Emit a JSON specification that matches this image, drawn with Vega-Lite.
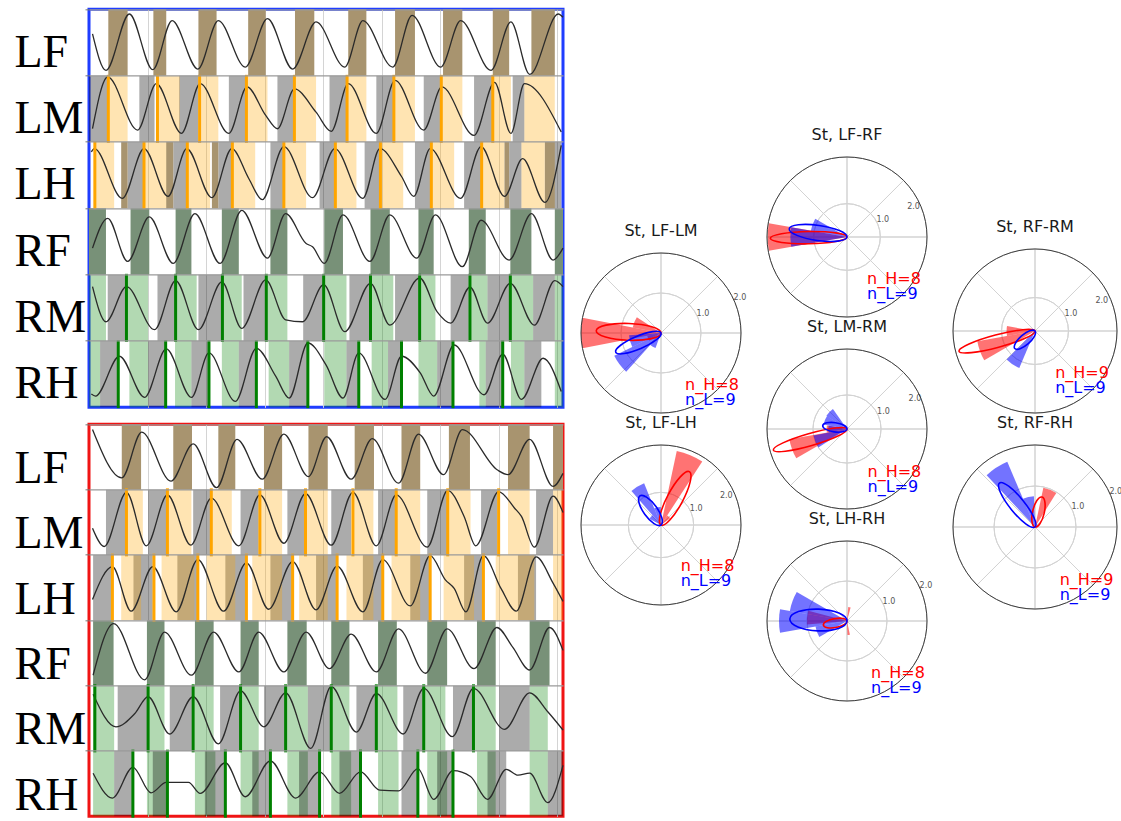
{
"$schema":"https://vega.github.io/schema/vega-lite/v6.json",
"background":"white",
"padding":{"left":12,"top":7,"right":0,"bottom":0},
"config":{"view":{"stroke":null},"font":"DejaVu Sans",
"title":{"font":"DejaVu Sans","fontSize":16,"fontWeight":"normal","color":"#1a1a1a","offset":12},
"style":{"rlab":{"fontSize":8,"color":"#555555","align":"center","baseline":"middle","dx":5,"dy":-4},"nlab":{"fontSize":16,"align":"left","baseline":"alphabetic","font":"DejaVu Sans"}}},
"datasets":{
"rings":[{"r":1},{"r":2}],
"rim":[{"r":99}],
"spokes":[{"t":0,"u":0,"r":99},{"t":45,"u":45,"r":99},{"t":90,"u":90,"r":99},{"t":135,"u":135,"r":99},{"t":180,"u":180,"r":99},{"t":225,"u":225,"r":99},{"t":270,"u":270,"r":99},{"t":315,"u":315,"r":99}],
"counts":[{"p":"LF-LM","g":"H","lab":"n_H=8"},{"p":"LF-LM","g":"L","lab":"n_L=9"},{"p":"LF-LH","g":"H","lab":"n_H=8"},{"p":"LF-LH","g":"L","lab":"n_L=9"},{"p":"LF-RF","g":"H","lab":"n_H=8"},{"p":"LF-RF","g":"L","lab":"n_L=9"},{"p":"LM-RM","g":"H","lab":"n_H=8"},{"p":"LM-RM","g":"L","lab":"n_L=9"},{"p":"LH-RH","g":"H","lab":"n_H=8"},{"p":"LH-RH","g":"L","lab":"n_L=9"},{"p":"RF-RM","g":"H","lab":"n_H=9"},{"p":"RF-RM","g":"L","lab":"n_L=9"},{"p":"RF-RH","g":"H","lab":"n_H=9"},{"p":"RF-RH","g":"L","lab":"n_L=9"}],
"rose":[
{"p":"LF-LM","g":"H","a":169,"a2":191,"r":2.0},{"p":"LF-LM","g":"H","a":147,"a2":169,"r":0.72},{"p":"LF-LM","g":"H","a":191,"a2":213,"r":0.35},
{"p":"LF-LM","g":"L","a":206,"a2":228,"r":1.3},{"p":"LF-LM","g":"L","a":184,"a2":206,"r":0.8},{"p":"LF-LM","g":"L","a":228,"a2":250,"r":0.4},
{"p":"LF-LH","g":"H","a":57,"a2":78,"r":2.32},{"p":"LF-LH","g":"H","a":36,"a2":57,"r":0.35},
{"p":"LF-LH","g":"L","a":112,"a2":131,"r":1.38},{"p":"LF-LH","g":"L","a":91,"a2":112,"r":0.55},{"p":"LF-LH","g":"L","a":131,"a2":152,"r":0.4},
{"p":"LF-RF","g":"H","a":170,"a2":190,"r":2.38},{"p":"LF-RF","g":"L","a":170,"a2":190,"r":1.7},{"p":"LF-RF","g":"L","a":150,"a2":170,"r":1.1},
{"p":"LM-RM","g":"H","a":190,"a2":210,"r":1.72},{"p":"LM-RM","g":"H","a":170,"a2":190,"r":0.6},
{"p":"LM-RM","g":"L","a":125,"a2":147,"r":0.72},{"p":"LM-RM","g":"L","a":147,"a2":169,"r":0.7},{"p":"LM-RM","g":"L","a":169,"a2":191,"r":0.55},{"p":"LM-RM","g":"L","a":191,"a2":213,"r":1.0},
{"p":"LH-RH","g":"H","a":165,"a2":185,"r":1.0},{"p":"LH-RH","g":"H","a":75,"a2":85,"r":0.35},{"p":"LH-RH","g":"H","a":272,"a2":282,"r":0.35},
{"p":"LH-RH","g":"L","a":170,"a2":190,"r":1.7},{"p":"LH-RH","g":"L","a":150,"a2":170,"r":1.45},{"p":"LH-RH","g":"L","a":190,"a2":210,"r":0.8},
{"p":"RF-RM","g":"H","a":190,"a2":210,"r":1.75},{"p":"RF-RM","g":"H","a":170,"a2":190,"r":0.85},{"p":"RF-RM","g":"L","a":225,"a2":247,"r":1.2},
{"p":"RF-RH","g":"H","a":58,"a2":78,"r":0.98},{"p":"RF-RH","g":"L","a":113,"a2":133,"r":1.73},{"p":"RF-RH","g":"L","a":92,"a2":113,"r":0.75}],
"vec":[
{"p":"LF-LM","g":"H","ang":178,"len":1.62,"s":"m"},{"p":"LF-LM","g":"L","ang":203,"len":1.23,"s":"m"},
{"p":"LF-LH","g":"H","ang":62,"len":1.85,"s":"m"},{"p":"LF-LH","g":"L","ang":126,"len":1.1,"s":"w"},
{"p":"LF-RF","g":"H","ang":181,"len":2.3,"s":"n"},{"p":"LF-RF","g":"L","ang":172,"len":1.75,"s":"m"},
{"p":"LM-RM","g":"H","ang":196,"len":2.25,"s":"n"},{"p":"LM-RM","g":"L","ang":172,"len":0.72,"s":"w"},
{"p":"LH-RH","g":"H","ang":190,"len":0.6,"s":"w"},{"p":"LH-RH","g":"L","ang":178,"len":1.43,"s":"w"},
{"p":"RF-RM","g":"H","ang":195,"len":2.35,"s":"n"},{"p":"RF-RM","g":"L","ang":221,"len":0.8,"s":"w"},
{"p":"RF-RH","g":"H","ang":77,"len":0.75,"s":"w"},{"p":"RF-RH","g":"L","ang":129,"len":1.38,"s":"m"}],
"events":[
{"p":"L","l":"LM","k":"eL","t":0.33},{"p":"L","l":"LM","k":"eL","t":1.17},{"p":"L","l":"LM","k":"eL","t":1.89},{"p":"L","l":"LM","k":"eL","t":2.69},{"p":"L","l":"LM","k":"eL","t":3.51},{"p":"L","l":"LM","k":"eL","t":4.41},{"p":"L","l":"LM","k":"eL","t":5.21},{"p":"L","l":"LM","k":"eL","t":6.02},{"p":"L","l":"LM","k":"eL","t":6.9},
{"p":"L","l":"LH","k":"eL","t":0.1},{"p":"L","l":"LH","k":"eL","t":0.94},{"p":"L","l":"LH","k":"eL","t":1.68},{"p":"L","l":"LH","k":"eL","t":2.45},{"p":"L","l":"LH","k":"eL","t":3.33},{"p":"L","l":"LH","k":"eL","t":4.21},{"p":"L","l":"LH","k":"eL","t":4.98},{"p":"L","l":"LH","k":"eL","t":5.85},{"p":"L","l":"LH","k":"eL","t":6.71},
{"p":"L","l":"RM","k":"eR","t":0.64},{"p":"L","l":"RM","k":"eR","t":1.48},{"p":"L","l":"RM","k":"eR","t":2.28},{"p":"L","l":"RM","k":"eR","t":3.03},{"p":"L","l":"RM","k":"eR","t":4.01},{"p":"L","l":"RM","k":"eR","t":4.81},{"p":"L","l":"RM","k":"eR","t":5.65},{"p":"L","l":"RM","k":"eR","t":6.51},{"p":"L","l":"RM","k":"eR","t":7.2},
{"p":"L","l":"RH","k":"eR","t":0.5},{"p":"L","l":"RH","k":"eR","t":1.31},{"p":"L","l":"RH","k":"eR","t":2.05},{"p":"L","l":"RH","k":"eR","t":2.86},{"p":"L","l":"RH","k":"eR","t":3.74},{"p":"L","l":"RH","k":"eR","t":4.61},{"p":"L","l":"RH","k":"eR","t":5.34},{"p":"L","l":"RH","k":"eR","t":6.22},{"p":"L","l":"RH","k":"eR","t":7.07},
{"p":"H","l":"LM","k":"eL","t":0.64},{"p":"H","l":"LM","k":"eL","t":1.34},{"p":"H","l":"LM","k":"eL","t":2.09},{"p":"H","l":"LM","k":"eL","t":2.92},{"p":"H","l":"LM","k":"eL","t":3.7},{"p":"H","l":"LM","k":"eL","t":4.51},{"p":"H","l":"LM","k":"eL","t":5.25},{"p":"H","l":"LM","k":"eL","t":6.13},{"p":"H","l":"LM","k":"eL","t":7.0},
{"p":"H","l":"LH","k":"eL","t":0.4},{"p":"H","l":"LH","k":"eL","t":1.11},{"p":"H","l":"LH","k":"eL","t":1.86},{"p":"H","l":"LH","k":"eL","t":2.69},{"p":"H","l":"LH","k":"eL","t":3.48},{"p":"H","l":"LH","k":"eL","t":4.24},{"p":"H","l":"LH","k":"eL","t":5.02},{"p":"H","l":"LH","k":"eL","t":5.83},{"p":"H","l":"LH","k":"eL","t":6.74},
{"p":"H","l":"RM","k":"eR","t":0.1},{"p":"H","l":"RM","k":"eR","t":1.01},{"p":"H","l":"RM","k":"eR","t":1.78},{"p":"H","l":"RM","k":"eR","t":2.59},{"p":"H","l":"RM","k":"eR","t":3.36},{"p":"H","l":"RM","k":"eR","t":4.14},{"p":"H","l":"RM","k":"eR","t":4.91},{"p":"H","l":"RM","k":"eR","t":5.72},{"p":"H","l":"RM","k":"eR","t":6.57},
{"p":"H","l":"RH","k":"eR","t":0.75},{"p":"H","l":"RH","k":"eR","t":1.34},{"p":"H","l":"RH","k":"eR","t":2.33},{"p":"H","l":"RH","k":"eR","t":3.1},{"p":"H","l":"RH","k":"eR","t":3.94},{"p":"H","l":"RH","k":"eR","t":4.64},{"p":"H","l":"RH","k":"eR","t":5.62},{"p":"H","l":"RH","k":"eR","t":6.22}],
"phase":[
{"p":"L","l":"LF","k":"stL","t0":0.33,"t1":0.66},{"p":"L","l":"LF","k":"stL","t0":1.1,"t1":1.32},{"p":"L","l":"LF","k":"stL","t0":1.87,"t1":2.18},{"p":"L","l":"LF","k":"stL","t0":2.72,"t1":3.02},{"p":"L","l":"LF","k":"stL","t0":3.52,"t1":3.85},{"p":"L","l":"LF","k":"stL","t0":4.43,"t1":4.74},{"p":"L","l":"LF","k":"stL","t0":5.23,"t1":5.57},{"p":"L","l":"LF","k":"stL","t0":6.05,"t1":6.38},{"p":"L","l":"LF","k":"stL","t0":6.9,"t1":7.18},{"p":"L","l":"LF","k":"stL","t0":7.56,"t1":7.96},
{"p":"L","l":"LM","k":"st","t0":0,"t1":0.32},{"p":"L","l":"LM","k":"st","t0":0.86,"t1":1.12},{"p":"L","l":"LM","k":"st","t0":1.54,"t1":1.87},{"p":"L","l":"LM","k":"st","t0":2.39,"t1":2.7},{"p":"L","l":"LM","k":"st","t0":3.22,"t1":3.51},{"p":"L","l":"LM","k":"st","t0":4.11,"t1":4.4},{"p":"L","l":"LM","k":"st","t0":4.91,"t1":5.2},{"p":"L","l":"LM","k":"st","t0":5.72,"t1":6.03},{"p":"L","l":"LM","k":"st","t0":6.58,"t1":6.9},{"p":"L","l":"LM","k":"st","t0":7.24,"t1":7.44},
{"p":"L","l":"LM","k":"wL","t0":0.33,"t1":0.66},{"p":"L","l":"LM","k":"wL","t0":1.18,"t1":1.55},{"p":"L","l":"LM","k":"wL","t0":1.9,"t1":2.21},{"p":"L","l":"LM","k":"wL","t0":2.7,"t1":3.05},{"p":"L","l":"LM","k":"wL","t0":3.51,"t1":3.88},{"p":"L","l":"LM","k":"wL","t0":4.41,"t1":4.74},{"p":"L","l":"LM","k":"wL","t0":5.21,"t1":5.57},{"p":"L","l":"LM","k":"wL","t0":6.02,"t1":6.38},{"p":"L","l":"LM","k":"wL","t0":6.9,"t1":7.21},{"p":"L","l":"LM","k":"wL","t0":7.44,"t1":7.96},
{"p":"L","l":"LH","k":"st","t0":0.66,"t1":0.94},{"p":"L","l":"LH","k":"st","t0":1.44,"t1":1.68},{"p":"L","l":"LH","k":"st","t0":2.21,"t1":2.45},{"p":"L","l":"LH","k":"st","t0":3.1,"t1":3.33},{"p":"L","l":"LH","k":"st","t0":3.94,"t1":4.21},{"p":"L","l":"LH","k":"st","t0":4.71,"t1":4.98},{"p":"L","l":"LH","k":"st","t0":5.57,"t1":5.85},{"p":"L","l":"LH","k":"st","t0":6.41,"t1":6.71},{"p":"L","l":"LH","k":"st","t0":7.18,"t1":7.39},{"p":"L","l":"LH","k":"st","t0":7.84,"t1":8.07},
{"p":"L","l":"LH","k":"wL","t0":0.1,"t1":0.43},{"p":"L","l":"LH","k":"wL","t0":0.94,"t1":1.35},{"p":"L","l":"LH","k":"wL","t0":1.68,"t1":2.07},{"p":"L","l":"LH","k":"wL","t0":2.45,"t1":2.84},{"p":"L","l":"LH","k":"wL","t0":3.33,"t1":3.71},{"p":"L","l":"LH","k":"wL","t0":4.21,"t1":4.57},{"p":"L","l":"LH","k":"wL","t0":4.98,"t1":5.37},{"p":"L","l":"LH","k":"wL","t0":5.85,"t1":6.24},{"p":"L","l":"LH","k":"wL","t0":6.71,"t1":7.1},{"p":"L","l":"LH","k":"wL","t0":7.39,"t1":7.79},
{"p":"L","l":"LH","k":"stL","t0":0.55,"t1":0.66},{"p":"L","l":"LH","k":"stL","t0":1.32,"t1":1.44},{"p":"L","l":"LH","k":"stL","t0":2.1,"t1":2.21},{"p":"L","l":"LH","k":"stL","t0":7.1,"t1":7.18},{"p":"L","l":"LH","k":"stL","t0":7.79,"t1":7.96},
{"p":"L","l":"RF","k":"stR","t0":0,"t1":0.29},{"p":"L","l":"RF","k":"stR","t0":0.71,"t1":1.03},{"p":"L","l":"RF","k":"stR","t0":1.48,"t1":1.75},{"p":"L","l":"RF","k":"stR","t0":2.27,"t1":2.56},{"p":"L","l":"RF","k":"stR","t0":3.1,"t1":3.39},{"p":"L","l":"RF","k":"stR","t0":4.02,"t1":4.34},{"p":"L","l":"RF","k":"stR","t0":4.81,"t1":5.14},{"p":"L","l":"RF","k":"stR","t0":5.63,"t1":5.89},{"p":"L","l":"RF","k":"stR","t0":6.49,"t1":6.78},{"p":"L","l":"RF","k":"stR","t0":7.2,"t1":7.56},{"p":"L","l":"RF","k":"stR","t0":7.96,"t1":8.1},
{"p":"L","l":"RM","k":"wR","t0":0,"t1":0.29},{"p":"L","l":"RM","k":"wR","t0":0.66,"t1":1.01},{"p":"L","l":"RM","k":"wR","t0":1.49,"t1":1.84},{"p":"L","l":"RM","k":"wR","t0":2.28,"t1":2.61},{"p":"L","l":"RM","k":"wR","t0":3.05,"t1":3.39},{"p":"L","l":"RM","k":"wR","t0":4.02,"t1":4.4},{"p":"L","l":"RM","k":"wR","t0":4.83,"t1":5.2},{"p":"L","l":"RM","k":"wR","t0":5.66,"t1":5.92},{"p":"L","l":"RM","k":"wR","t0":6.52,"t1":6.81},{"p":"L","l":"RM","k":"wR","t0":7.21,"t1":7.59},{"p":"L","l":"RM","k":"wR","t0":7.96,"t1":8.1},
{"p":"L","l":"RM","k":"st","t0":0.32,"t1":0.63},{"p":"L","l":"RM","k":"st","t0":1.17,"t1":1.47},{"p":"L","l":"RM","k":"st","t0":1.87,"t1":2.27},{"p":"L","l":"RM","k":"st","t0":2.64,"t1":3.02},{"p":"L","l":"RM","k":"st","t0":3.66,"t1":4.01},{"p":"L","l":"RM","k":"st","t0":4.45,"t1":4.8},{"p":"L","l":"RM","k":"st","t0":5.23,"t1":5.63},{"p":"L","l":"RM","k":"st","t0":6.18,"t1":6.49},{"p":"L","l":"RM","k":"st","t0":6.81,"t1":7.18},{"p":"L","l":"RM","k":"st","t0":7.59,"t1":7.96},
{"p":"L","l":"RH","k":"wR","t0":0,"t1":0.19},{"p":"L","l":"RH","k":"wR","t0":0.69,"t1":1.01},{"p":"L","l":"RH","k":"wR","t0":1.47,"t1":1.75},{"p":"L","l":"RH","k":"wR","t0":2.27,"t1":2.56},{"p":"L","l":"RH","k":"wR","t0":3.07,"t1":3.42},{"p":"L","l":"RH","k":"wR","t0":4.02,"t1":4.4},{"p":"L","l":"RH","k":"wR","t0":4.83,"t1":5.11},{"p":"L","l":"RH","k":"wR","t0":5.63,"t1":5.95},{"p":"L","l":"RH","k":"wR","t0":6.67,"t1":6.78},{"p":"L","l":"RH","k":"wR","t0":7.21,"t1":7.44},{"p":"L","l":"RH","k":"wR","t0":7.96,"t1":8.1},
{"p":"L","l":"RH","k":"st","t0":0.19,"t1":0.49},{"p":"L","l":"RH","k":"st","t0":1.01,"t1":1.31},{"p":"L","l":"RH","k":"st","t0":1.75,"t1":2.05},{"p":"L","l":"RH","k":"st","t0":2.56,"t1":2.86},{"p":"L","l":"RH","k":"st","t0":3.42,"t1":3.74},{"p":"L","l":"RH","k":"st","t0":4.4,"t1":4.61},{"p":"L","l":"RH","k":"st","t0":5.11,"t1":5.34},{"p":"L","l":"RH","k":"st","t0":5.95,"t1":6.22},{"p":"L","l":"RH","k":"st","t0":6.78,"t1":7.07},{"p":"L","l":"RH","k":"st","t0":7.44,"t1":7.73},
{"p":"H","l":"LF","k":"stL","t0":0.56,"t1":0.89},{"p":"H","l":"LF","k":"stL","t0":1.44,"t1":1.76},{"p":"H","l":"LF","k":"stL","t0":2.21,"t1":2.5},{"p":"H","l":"LF","k":"stL","t0":2.99,"t1":3.3},{"p":"H","l":"LF","k":"stL","t0":3.75,"t1":4.08},{"p":"H","l":"LF","k":"stL","t0":4.54,"t1":4.87},{"p":"H","l":"LF","k":"stL","t0":5.34,"t1":5.66},{"p":"H","l":"LF","k":"stL","t0":6.15,"t1":6.51},{"p":"H","l":"LF","k":"stL","t0":7.16,"t1":7.53},{"p":"H","l":"LF","k":"stL","t0":7.93,"t1":8.1},
{"p":"H","l":"LM","k":"st","t0":0.29,"t1":0.63},{"p":"H","l":"LM","k":"st","t0":1.01,"t1":1.32},{"p":"H","l":"LM","k":"st","t0":1.78,"t1":2.07},{"p":"H","l":"LM","k":"st","t0":2.59,"t1":2.9},{"p":"H","l":"LM","k":"st","t0":3.39,"t1":3.68},{"p":"H","l":"LM","k":"st","t0":4.14,"t1":4.48},{"p":"H","l":"LM","k":"st","t0":4.94,"t1":5.23},{"p":"H","l":"LM","k":"st","t0":5.78,"t1":6.12},{"p":"H","l":"LM","k":"st","t0":6.7,"t1":6.98},{"p":"H","l":"LM","k":"st","t0":7.64,"t1":7.93},
{"p":"H","l":"LM","k":"wL","t0":0.64,"t1":0.92},{"p":"H","l":"LM","k":"wL","t0":1.34,"t1":1.75},{"p":"H","l":"LM","k":"wL","t0":2.1,"t1":2.44},{"p":"H","l":"LM","k":"wL","t0":2.92,"t1":3.3},{"p":"H","l":"LM","k":"wL","t0":3.71,"t1":4.08},{"p":"H","l":"LM","k":"wL","t0":4.51,"t1":4.86},{"p":"H","l":"LM","k":"wL","t0":5.26,"t1":5.66},{"p":"H","l":"LM","k":"wL","t0":6.15,"t1":6.52},{"p":"H","l":"LM","k":"wL","t0":7.16,"t1":7.53},{"p":"H","l":"LM","k":"wL","t0":7.93,"t1":8.1},
{"p":"H","l":"LH","k":"st","t0":0.07,"t1":0.4},{"p":"H","l":"LH","k":"st","t0":0.76,"t1":1.09},{"p":"H","l":"LH","k":"st","t0":1.51,"t1":1.86},{"p":"H","l":"LH","k":"st","t0":2.33,"t1":2.69},{"p":"H","l":"LH","k":"st","t0":3.1,"t1":3.48},{"p":"H","l":"LH","k":"st","t0":3.88,"t1":4.24},{"p":"H","l":"LH","k":"st","t0":4.68,"t1":5.02},{"p":"H","l":"LH","k":"st","t0":5.49,"t1":5.83},{"p":"H","l":"LH","k":"st","t0":6.41,"t1":6.74},{"p":"H","l":"LH","k":"st","t0":7.33,"t1":7.64},
{"p":"H","l":"LH","k":"wL","t0":0.55,"t1":0.89},{"p":"H","l":"LH","k":"wL","t0":1.24,"t1":1.8},{"p":"H","l":"LH","k":"wL","t0":2.01,"t1":2.5},{"p":"H","l":"LH","k":"wL","t0":2.79,"t1":3.3},{"p":"H","l":"LH","k":"wL","t0":3.59,"t1":4.08},{"p":"H","l":"LH","k":"wL","t0":4.4,"t1":4.86},{"p":"H","l":"LH","k":"wL","t0":5.17,"t1":5.66},{"p":"H","l":"LH","k":"wL","t0":6.06,"t1":6.58},{"p":"H","l":"LH","k":"wL","t0":6.95,"t1":7.61},{"p":"H","l":"LH","k":"wL","t0":7.93,"t1":8.1},
{"p":"H","l":"RF","k":"stR","t0":0.07,"t1":0.42},{"p":"H","l":"RF","k":"stR","t0":0.99,"t1":1.29},{"p":"H","l":"RF","k":"stR","t0":1.81,"t1":2.13},{"p":"H","l":"RF","k":"stR","t0":2.59,"t1":2.9},{"p":"H","l":"RF","k":"stR","t0":3.39,"t1":3.72},{"p":"H","l":"RF","k":"stR","t0":4.14,"t1":4.45},{"p":"H","l":"RF","k":"stR","t0":4.94,"t1":5.26},{"p":"H","l":"RF","k":"stR","t0":5.78,"t1":6.12},{"p":"H","l":"RF","k":"stR","t0":6.63,"t1":6.95},{"p":"H","l":"RF","k":"stR","t0":7.53,"t1":7.87},
{"p":"H","l":"RM","k":"wR","t0":0.07,"t1":0.43},{"p":"H","l":"RM","k":"wR","t0":0.99,"t1":1.29},{"p":"H","l":"RM","k":"wR","t0":1.8,"t1":2.13},{"p":"H","l":"RM","k":"wR","t0":2.59,"t1":2.9},{"p":"H","l":"RM","k":"wR","t0":3.36,"t1":3.74},{"p":"H","l":"RM","k":"wR","t0":4.14,"t1":4.45},{"p":"H","l":"RM","k":"wR","t0":4.91,"t1":5.27},{"p":"H","l":"RM","k":"wR","t0":5.72,"t1":6.09},{"p":"H","l":"RM","k":"wR","t0":6.58,"t1":6.95},{"p":"H","l":"RM","k":"wR","t0":7.53,"t1":7.84},
{"p":"H","l":"RM","k":"st","t0":0.49,"t1":0.99},{"p":"H","l":"RM","k":"st","t0":1.38,"t1":1.78},{"p":"H","l":"RM","k":"st","t0":2.24,"t1":2.59},{"p":"H","l":"RM","k":"st","t0":2.99,"t1":3.36},{"p":"H","l":"RM","k":"st","t0":3.74,"t1":4.14},{"p":"H","l":"RM","k":"st","t0":4.57,"t1":4.91},{"p":"H","l":"RM","k":"st","t0":5.37,"t1":5.72},{"p":"H","l":"RM","k":"st","t0":6.22,"t1":6.58},{"p":"H","l":"RM","k":"st","t0":7.01,"t1":7.53},
{"p":"H","l":"RH","k":"wR","t0":0.07,"t1":0.43},{"p":"H","l":"RH","k":"wR","t0":0.99,"t1":1.32},{"p":"H","l":"RH","k":"wR","t0":1.81,"t1":2.16},{"p":"H","l":"RH","k":"wR","t0":2.59,"t1":2.9},{"p":"H","l":"RH","k":"wR","t0":3.39,"t1":3.74},{"p":"H","l":"RH","k":"wR","t0":4.14,"t1":4.48},{"p":"H","l":"RH","k":"wR","t0":4.94,"t1":5.29},{"p":"H","l":"RH","k":"wR","t0":5.78,"t1":6.12},{"p":"H","l":"RH","k":"wR","t0":6.63,"t1":6.95},{"p":"H","l":"RH","k":"wR","t0":7.53,"t1":7.84},
{"p":"H","l":"RH","k":"st","t0":0.43,"t1":0.75},{"p":"H","l":"RH","k":"st","t0":1.09,"t1":1.32},{"p":"H","l":"RH","k":"st","t0":1.98,"t1":2.33},{"p":"H","l":"RH","k":"st","t0":2.79,"t1":3.1},{"p":"H","l":"RH","k":"st","t0":3.59,"t1":3.94},{"p":"H","l":"RH","k":"st","t0":4.28,"t1":4.64},{"p":"H","l":"RH","k":"st","t0":5.34,"t1":5.62},{"p":"H","l":"RH","k":"st","t0":5.95,"t1":6.22},{"p":"H","l":"RH","k":"st","t0":6.81,"t1":7.13},{"p":"H","l":"RH","k":"st","t0":7.84,"t1":8.1}],
"trace":[
{"p":"L","l":"LF","t":0.06,"v":0.63},{"p":"L","l":"LF","t":0.29,"v":0.08},{"p":"L","l":"LF","t":0.69,"v":0.93},{"p":"L","l":"LF","t":1.09,"v":0.09},{"p":"L","l":"LF","t":1.42,"v":0.83},{"p":"L","l":"LF","t":1.86,"v":0.1},{"p":"L","l":"LF","t":2.21,"v":0.83},{"p":"L","l":"LF","t":2.67,"v":0.13},{"p":"L","l":"LF","t":3.05,"v":0.86},{"p":"L","l":"LF","t":3.48,"v":0.1},{"p":"L","l":"LF","t":3.88,"v":0.81},{"p":"L","l":"LF","t":4.37,"v":0.13},{"p":"L","l":"LF","t":4.68,"v":0.83},{"p":"L","l":"LF","t":5.19,"v":0.13},{"p":"L","l":"LF","t":5.52,"v":0.91},{"p":"L","l":"LF","t":6.01,"v":0.13},{"p":"L","l":"LF","t":6.35,"v":0.83},{"p":"L","l":"LF","t":6.87,"v":0.08},{"p":"L","l":"LF","t":7.21,"v":0.81},{"p":"L","l":"LF","t":7.53,"v":0.02},{"p":"L","l":"LF","t":8.02,"v":0.93},{"p":"L","l":"LF","t":8.1,"v":0.88},
{"p":"L","l":"LM","t":0.06,"v":0.2},{"p":"L","l":"LM","t":0.32,"v":0.98},{"p":"L","l":"LM","t":0.83,"v":0.18},{"p":"L","l":"LM","t":1.15,"v":0.88},{"p":"L","l":"LM","t":1.58,"v":0.13},{"p":"L","l":"LM","t":1.9,"v":0.88},{"p":"L","l":"LM","t":2.39,"v":0.13},{"p":"L","l":"LM","t":2.7,"v":0.83},{"p":"L","l":"LM","t":3.02,"v":0.4},{"p":"L","l":"LM","t":3.22,"v":0.2},{"p":"L","l":"LM","t":3.51,"v":0.8},{"p":"L","l":"LM","t":3.88,"v":0.45},{"p":"L","l":"LM","t":4.14,"v":0.16},{"p":"L","l":"LM","t":4.43,"v":0.88},{"p":"L","l":"LM","t":4.91,"v":0.13},{"p":"L","l":"LM","t":5.23,"v":0.93},{"p":"L","l":"LM","t":5.72,"v":0.18},{"p":"L","l":"LM","t":6.03,"v":0.83},{"p":"L","l":"LM","t":6.58,"v":0.1},{"p":"L","l":"LM","t":6.93,"v":0.9},{"p":"L","l":"LM","t":7.21,"v":0.13},{"p":"L","l":"LM","t":7.44,"v":0.88},{"p":"L","l":"LM","t":8.07,"v":0.15},
{"p":"L","l":"LH","t":0.04,"v":0.85},{"p":"L","l":"LH","t":0.09,"v":0.9},{"p":"L","l":"LH","t":0.57,"v":0.15},{"p":"L","l":"LH","t":0.94,"v":0.9},{"p":"L","l":"LH","t":1.35,"v":0.18},{"p":"L","l":"LH","t":1.67,"v":0.9},{"p":"L","l":"LH","t":2.1,"v":0.16},{"p":"L","l":"LH","t":2.44,"v":0.9},{"p":"L","l":"LH","t":2.73,"v":0.45},{"p":"L","l":"LH","t":2.96,"v":0.13},{"p":"L","l":"LH","t":3.33,"v":0.93},{"p":"L","l":"LH","t":3.82,"v":0.16},{"p":"L","l":"LH","t":4.2,"v":0.9},{"p":"L","l":"LH","t":4.68,"v":0.15},{"p":"L","l":"LH","t":4.97,"v":0.9},{"p":"L","l":"LH","t":5.34,"v":0.48},{"p":"L","l":"LH","t":5.55,"v":0.18},{"p":"L","l":"LH","t":5.83,"v":0.9},{"p":"L","l":"LH","t":6.35,"v":0.15},{"p":"L","l":"LH","t":6.7,"v":0.93},{"p":"L","l":"LH","t":7.1,"v":0.18},{"p":"L","l":"LH","t":7.41,"v":0.75},{"p":"L","l":"LH","t":7.79,"v":0.09},{"p":"L","l":"LH","t":8.07,"v":0.95},
{"p":"L","l":"RF","t":0.06,"v":0.4},{"p":"L","l":"RF","t":0.32,"v":0.85},{"p":"L","l":"RF","t":0.66,"v":0.2},{"p":"L","l":"RF","t":1.03,"v":0.87},{"p":"L","l":"RF","t":1.44,"v":0.17},{"p":"L","l":"RF","t":1.81,"v":0.92},{"p":"L","l":"RF","t":2.24,"v":0.17},{"p":"L","l":"RF","t":2.61,"v":0.97},{"p":"L","l":"RF","t":3.05,"v":0.25},{"p":"L","l":"RF","t":3.36,"v":0.92},{"p":"L","l":"RF","t":3.71,"v":0.47},{"p":"L","l":"RF","t":3.82,"v":0.42},{"p":"L","l":"RF","t":4.02,"v":0.17},{"p":"L","l":"RF","t":4.34,"v":0.9},{"p":"L","l":"RF","t":4.8,"v":0.2},{"p":"L","l":"RF","t":5.14,"v":0.9},{"p":"L","l":"RF","t":5.6,"v":0.25},{"p":"L","l":"RF","t":5.92,"v":0.9},{"p":"L","l":"RF","t":6.38,"v":0.12},{"p":"L","l":"RF","t":6.7,"v":0.82},{"p":"L","l":"RF","t":7.18,"v":0.22},{"p":"L","l":"RF","t":7.56,"v":0.92},{"p":"L","l":"RF","t":7.93,"v":0.22},{"p":"L","l":"RF","t":8.1,"v":0.4},
{"p":"L","l":"RM","t":0.06,"v":0.82},{"p":"L","l":"RM","t":0.29,"v":0.29},{"p":"L","l":"RM","t":0.64,"v":0.82},{"p":"L","l":"RM","t":1.12,"v":0.17},{"p":"L","l":"RM","t":1.48,"v":0.91},{"p":"L","l":"RM","t":1.87,"v":0.17},{"p":"L","l":"RM","t":2.27,"v":0.89},{"p":"L","l":"RM","t":2.61,"v":0.19},{"p":"L","l":"RM","t":3.02,"v":0.92},{"p":"L","l":"RM","t":3.36,"v":0.32},{"p":"L","l":"RM","t":3.65,"v":0.29},{"p":"L","l":"RM","t":4.01,"v":0.85},{"p":"L","l":"RM","t":4.37,"v":0.14},{"p":"L","l":"RM","t":4.81,"v":0.87},{"p":"L","l":"RM","t":5.14,"v":0.24},{"p":"L","l":"RM","t":5.65,"v":0.95},{"p":"L","l":"RM","t":5.95,"v":0.44},{"p":"L","l":"RM","t":6.18,"v":0.27},{"p":"L","l":"RM","t":6.51,"v":0.81},{"p":"L","l":"RM","t":6.81,"v":0.27},{"p":"L","l":"RM","t":7.2,"v":0.87},{"p":"L","l":"RM","t":7.61,"v":0.24},{"p":"L","l":"RM","t":7.96,"v":0.91},{"p":"L","l":"RM","t":8.1,"v":0.82},
{"p":"L","l":"RH","t":0.04,"v":0.2},{"p":"L","l":"RH","t":0.11,"v":0.17},{"p":"L","l":"RH","t":0.52,"v":0.77},{"p":"L","l":"RH","t":0.95,"v":0.15},{"p":"L","l":"RH","t":1.32,"v":0.88},{"p":"L","l":"RH","t":1.75,"v":0.15},{"p":"L","l":"RH","t":2.05,"v":0.82},{"p":"L","l":"RH","t":2.5,"v":0.09},{"p":"L","l":"RH","t":2.86,"v":0.89},{"p":"L","l":"RH","t":3.19,"v":0.47},{"p":"L","l":"RH","t":3.42,"v":0.14},{"p":"L","l":"RH","t":3.74,"v":0.97},{"p":"L","l":"RH","t":4.05,"v":0.64},{"p":"L","l":"RH","t":4.34,"v":0.14},{"p":"L","l":"RH","t":4.61,"v":0.82},{"p":"L","l":"RH","t":5.06,"v":0.12},{"p":"L","l":"RH","t":5.34,"v":0.77},{"p":"L","l":"RH","t":5.66,"v":0.52},{"p":"L","l":"RH","t":5.89,"v":0.17},{"p":"L","l":"RH","t":6.24,"v":0.94},{"p":"L","l":"RH","t":6.75,"v":0.19},{"p":"L","l":"RH","t":7.07,"v":0.8},{"p":"L","l":"RH","t":7.39,"v":0.12},{"p":"L","l":"RH","t":7.76,"v":0.74},{"p":"L","l":"RH","t":8.07,"v":0.24},
{"p":"H","l":"LF","t":0.06,"v":0.92},{"p":"H","l":"LF","t":0.56,"v":0.18},{"p":"H","l":"LF","t":0.9,"v":0.88},{"p":"H","l":"LF","t":1.4,"v":0.13},{"p":"H","l":"LF","t":1.78,"v":0.7},{"p":"H","l":"LF","t":2.18,"v":0.03},{"p":"H","l":"LF","t":2.53,"v":0.77},{"p":"H","l":"LF","t":2.96,"v":0.16},{"p":"H","l":"LF","t":3.33,"v":0.85},{"p":"H","l":"LF","t":3.75,"v":0.2},{"p":"H","l":"LF","t":4.06,"v":0.81},{"p":"H","l":"LF","t":4.48,"v":0.16},{"p":"H","l":"LF","t":4.84,"v":0.78},{"p":"H","l":"LF","t":5.29,"v":0.1},{"p":"H","l":"LF","t":5.63,"v":0.85},{"p":"H","l":"LF","t":6.06,"v":0.23},{"p":"H","l":"LF","t":6.38,"v":0.92},{"p":"H","l":"LF","t":6.98,"v":0.3},{"p":"H","l":"LF","t":7.16,"v":0.23},{"p":"H","l":"LF","t":7.53,"v":0.77},{"p":"H","l":"LF","t":7.93,"v":0.05},{"p":"H","l":"LF","t":8.1,"v":0.25},
{"p":"H","l":"LM","t":0.06,"v":0.41},{"p":"H","l":"LM","t":0.26,"v":0.13},{"p":"H","l":"LM","t":0.64,"v":0.96},{"p":"H","l":"LM","t":0.98,"v":0.14},{"p":"H","l":"LM","t":1.34,"v":0.92},{"p":"H","l":"LM","t":1.74,"v":0.15},{"p":"H","l":"LM","t":2.09,"v":0.87},{"p":"H","l":"LM","t":2.56,"v":0.14},{"p":"H","l":"LM","t":2.92,"v":0.92},{"p":"H","l":"LM","t":3.33,"v":0.18},{"p":"H","l":"LM","t":3.7,"v":0.94},{"p":"H","l":"LM","t":4.14,"v":0.15},{"p":"H","l":"LM","t":4.51,"v":0.96},{"p":"H","l":"LM","t":4.91,"v":0.14},{"p":"H","l":"LM","t":5.25,"v":0.92},{"p":"H","l":"LM","t":5.78,"v":0.12},{"p":"H","l":"LM","t":6.13,"v":0.99},{"p":"H","l":"LM","t":6.41,"v":0.59},{"p":"H","l":"LM","t":6.61,"v":0.14},{"p":"H","l":"LM","t":7.0,"v":0.97},{"p":"H","l":"LM","t":7.27,"v":0.72},{"p":"H","l":"LM","t":7.39,"v":0.59},{"p":"H","l":"LM","t":7.61,"v":0.12},{"p":"H","l":"LM","t":7.93,"v":0.9},{"p":"H","l":"LM","t":8.1,"v":0.65},
{"p":"H","l":"LH","t":0.06,"v":0.32},{"p":"H","l":"LH","t":0.4,"v":0.82},{"p":"H","l":"LH","t":0.72,"v":0.14},{"p":"H","l":"LH","t":1.09,"v":0.82},{"p":"H","l":"LH","t":1.49,"v":0.13},{"p":"H","l":"LH","t":1.86,"v":0.93},{"p":"H","l":"LH","t":2.3,"v":0.14},{"p":"H","l":"LH","t":2.69,"v":0.88},{"p":"H","l":"LH","t":3.07,"v":0.17},{"p":"H","l":"LH","t":3.48,"v":0.9},{"p":"H","l":"LH","t":3.88,"v":0.16},{"p":"H","l":"LH","t":4.24,"v":0.83},{"p":"H","l":"LH","t":4.68,"v":0.13},{"p":"H","l":"LH","t":5.02,"v":0.93},{"p":"H","l":"LH","t":5.49,"v":0.22},{"p":"H","l":"LH","t":5.83,"v":0.99},{"p":"H","l":"LH","t":6.09,"v":0.62},{"p":"H","l":"LH","t":6.24,"v":0.49},{"p":"H","l":"LH","t":6.44,"v":0.13},{"p":"H","l":"LH","t":6.74,"v":0.99},{"p":"H","l":"LH","t":7.04,"v":0.49},{"p":"H","l":"LH","t":7.3,"v":0.14},{"p":"H","l":"LH","t":7.64,"v":0.97},{"p":"H","l":"LH","t":7.93,"v":0.57},{"p":"H","l":"LH","t":8.1,"v":0.29},
{"p":"H","l":"RF","t":0.07,"v":0.16},{"p":"H","l":"RF","t":0.42,"v":0.95},{"p":"H","l":"RF","t":0.95,"v":0.09},{"p":"H","l":"RF","t":1.29,"v":0.82},{"p":"H","l":"RF","t":1.75,"v":0.16},{"p":"H","l":"RF","t":2.13,"v":0.82},{"p":"H","l":"RF","t":2.56,"v":0.21},{"p":"H","l":"RF","t":2.9,"v":0.82},{"p":"H","l":"RF","t":3.33,"v":0.21},{"p":"H","l":"RF","t":3.71,"v":0.82},{"p":"H","l":"RF","t":4.11,"v":0.26},{"p":"H","l":"RF","t":4.48,"v":0.79},{"p":"H","l":"RF","t":4.91,"v":0.21},{"p":"H","l":"RF","t":5.29,"v":0.87},{"p":"H","l":"RF","t":5.75,"v":0.19},{"p":"H","l":"RF","t":6.12,"v":0.87},{"p":"H","l":"RF","t":6.58,"v":0.26},{"p":"H","l":"RF","t":6.97,"v":0.89},{"p":"H","l":"RF","t":7.24,"v":0.59},{"p":"H","l":"RF","t":7.53,"v":0.24},{"p":"H","l":"RF","t":7.87,"v":0.89},{"p":"H","l":"RF","t":8.1,"v":0.54},
{"p":"H","l":"RM","t":0.07,"v":0.87},{"p":"H","l":"RM","t":0.46,"v":0.37},{"p":"H","l":"RM","t":0.78,"v":0.57},{"p":"H","l":"RM","t":1.01,"v":0.83},{"p":"H","l":"RM","t":1.38,"v":0.26},{"p":"H","l":"RM","t":1.78,"v":0.83},{"p":"H","l":"RM","t":2.21,"v":0.11},{"p":"H","l":"RM","t":2.59,"v":0.92},{"p":"H","l":"RM","t":2.99,"v":0.37},{"p":"H","l":"RM","t":3.36,"v":0.89},{"p":"H","l":"RM","t":3.79,"v":0.04},{"p":"H","l":"RM","t":4.14,"v":0.99},{"p":"H","l":"RM","t":4.57,"v":0.29},{"p":"H","l":"RM","t":4.91,"v":0.88},{"p":"H","l":"RM","t":5.37,"v":0.26},{"p":"H","l":"RM","t":5.72,"v":0.96},{"p":"H","l":"RM","t":6.21,"v":0.22},{"p":"H","l":"RM","t":6.57,"v":0.96},{"p":"H","l":"RM","t":7.1,"v":0.33},{"p":"H","l":"RM","t":7.53,"v":0.89},{"p":"H","l":"RM","t":7.84,"v":0.6},{"p":"H","l":"RM","t":8.1,"v":0.32},
{"p":"H","l":"RH","t":0.07,"v":0.66},{"p":"H","l":"RH","t":0.4,"v":0.28},{"p":"H","l":"RH","t":0.75,"v":0.75},{"p":"H","l":"RH","t":1.06,"v":0.36},{"p":"H","l":"RH","t":1.32,"v":0.52},{"p":"H","l":"RH","t":1.7,"v":0.52},{"p":"H","l":"RH","t":1.9,"v":0.35},{"p":"H","l":"RH","t":2.33,"v":0.82},{"p":"H","l":"RH","t":2.67,"v":0.3},{"p":"H","l":"RH","t":3.1,"v":0.85},{"p":"H","l":"RH","t":3.53,"v":0.28},{"p":"H","l":"RH","t":3.94,"v":0.68},{"p":"H","l":"RH","t":4.28,"v":0.35},{"p":"H","l":"RH","t":4.64,"v":0.68},{"p":"H","l":"RH","t":4.97,"v":0.4},{"p":"H","l":"RH","t":5.29,"v":0.39},{"p":"H","l":"RH","t":5.62,"v":0.73},{"p":"H","l":"RH","t":5.89,"v":0.26},{"p":"H","l":"RH","t":6.22,"v":0.7},{"p":"H","l":"RH","t":6.52,"v":0.61},{"p":"H","l":"RH","t":6.81,"v":0.26},{"p":"H","l":"RH","t":7.13,"v":0.72},{"p":"H","l":"RH","t":7.33,"v":0.63},{"p":"H","l":"RH","t":7.53,"v":0.66},{"p":"H","l":"RH","t":7.84,"v":0.21},{"p":"H","l":"RH","t":8.1,"v":0.78}]
},
"hconcat":[
{"vconcat":[
{"width":474,"height":398,"view":{"stroke":"#1f3dff","strokeWidth":3},
"layer":[
{"data":{"name":"phase"},"transform":[{"filter":"datum.p=='L'"}],"mark":{"type":"rect"},
"encoding":{"x":{"field":"t0","type":"quantitative","title":null,"scale":{"domain":[0,8.1],"nice":false,"zero":false},"axis":{"grid":true,"gridColor":"#d4d4d4","labels":false,"ticks":false,"domain":false,"values":[1,2,3,4,5,6,7,8]}},"x2":{"field":"t1"},
"y":{"field":"l","type":"nominal","title":null,"scale":{"domain":["LF","LM","LH","RF","RM","RH"],"paddingInner":0,"paddingOuter":0},"axis":{"bandPosition":0,"grid":true,"gridColor":"#9a9a9a","gridWidth":1.2,"domain":false,"ticks":true,"tickSize":4,"tickColor":"#777777","labelFont":"Liberation Serif","labelFontSize":46,"labelColor":"#000000","labelAlign":"left","labelBaseline":"middle","labelPadding":71,"labelOffset":10,"labelOverlap":false,"labelBound":false,"zindex":1}},
"color":{"field":"k","type":"nominal","legend":null,"scale":{"domain":["st","wL","wR","stL","stR","eL","eR"],"range":["rgba(0,0,0,0.33)","rgba(255,165,0,0.3)","rgba(0,128,0,0.3)","#a8946f","#789178","#ffa500","#008000"]}}}},
{"data":{"name":"trace"},"transform":[{"filter":"datum.p=='L'&&datum.l=='LF'"}],"mark":{"type":"line","interpolate":"monotone","color":"#2a2a2a","strokeWidth":1.3},"encoding":{"x":{"field":"t","type":"quantitative","title":null,"scale":{"domain":[0,8.1],"nice":false,"zero":false}},"y":{"field":"v","type":"quantitative","axis":null,"scale":{"domain":[-5,1],"nice":false,"zero":false}}}},
{"data":{"name":"trace"},"transform":[{"filter":"datum.p=='L'&&datum.l=='LM'"}],"mark":{"type":"line","interpolate":"monotone","color":"#2a2a2a","strokeWidth":1.3},"encoding":{"x":{"field":"t","type":"quantitative","title":null,"scale":{"domain":[0,8.1],"nice":false,"zero":false}},"y":{"field":"v","type":"quantitative","axis":null,"scale":{"domain":[-4,2],"nice":false,"zero":false}}}},
{"data":{"name":"trace"},"transform":[{"filter":"datum.p=='L'&&datum.l=='LH'"}],"mark":{"type":"line","interpolate":"monotone","color":"#2a2a2a","strokeWidth":1.3},"encoding":{"x":{"field":"t","type":"quantitative","title":null,"scale":{"domain":[0,8.1],"nice":false,"zero":false}},"y":{"field":"v","type":"quantitative","axis":null,"scale":{"domain":[-3,3],"nice":false,"zero":false}}}},
{"data":{"name":"trace"},"transform":[{"filter":"datum.p=='L'&&datum.l=='RF'"}],"mark":{"type":"line","interpolate":"monotone","color":"#2a2a2a","strokeWidth":1.3},"encoding":{"x":{"field":"t","type":"quantitative","title":null,"scale":{"domain":[0,8.1],"nice":false,"zero":false}},"y":{"field":"v","type":"quantitative","axis":null,"scale":{"domain":[-2,4],"nice":false,"zero":false}}}},
{"data":{"name":"trace"},"transform":[{"filter":"datum.p=='L'&&datum.l=='RM'"}],"mark":{"type":"line","interpolate":"monotone","color":"#2a2a2a","strokeWidth":1.3},"encoding":{"x":{"field":"t","type":"quantitative","title":null,"scale":{"domain":[0,8.1],"nice":false,"zero":false}},"y":{"field":"v","type":"quantitative","axis":null,"scale":{"domain":[-1,5],"nice":false,"zero":false}}}},
{"data":{"name":"trace"},"transform":[{"filter":"datum.p=='L'&&datum.l=='RH'"}],"mark":{"type":"line","interpolate":"monotone","color":"#2a2a2a","strokeWidth":1.3},"encoding":{"x":{"field":"t","type":"quantitative","title":null,"scale":{"domain":[0,8.1],"nice":false,"zero":false}},"y":{"field":"v","type":"quantitative","axis":null,"scale":{"domain":[0,6],"nice":false,"zero":false}}}},
{"data":{"name":"events"},"transform":[{"filter":"datum.p=='L'"}],"mark":{"type":"tick","thickness":3,"size":68,"opacity":1},
"encoding":{"x":{"field":"t","type":"quantitative","title":null,"scale":{"domain":[0,8.1],"nice":false,"zero":false}},"y":{"field":"l","type":"nominal","title":null,"axis":null,"scale":{"domain":["LF","LM","LH","RF","RM","RH"],"paddingInner":0,"paddingOuter":0}},
"color":{"field":"k","type":"nominal","legend":null,"scale":{"domain":["st","wL","wR","stL","stR","eL","eR"],"range":["rgba(0,0,0,0.33)","rgba(255,165,0,0.3)","rgba(0,128,0,0.3)","#a8946f","#789178","#ffa500","#008000"]}}}}
],
"resolve":{"scale":{"y":"independent"}}},
{"width":474,"height":392,"view":{"stroke":"#f01414","strokeWidth":3},
"layer":[
{"data":{"name":"phase"},"transform":[{"filter":"datum.p=='H'"}],"mark":{"type":"rect"},
"encoding":{"x":{"field":"t0","type":"quantitative","title":null,"scale":{"domain":[0,8.1],"nice":false,"zero":false},"axis":{"grid":true,"gridColor":"#d4d4d4","labels":false,"ticks":false,"domain":false,"values":[1,2,3,4,5,6,7,8]}},"x2":{"field":"t1"},
"y":{"field":"l","type":"nominal","title":null,"scale":{"domain":["LF","LM","LH","RF","RM","RH"],"paddingInner":0,"paddingOuter":0},"axis":{"bandPosition":0,"grid":true,"gridColor":"#9a9a9a","gridWidth":1.2,"domain":false,"ticks":true,"tickSize":4,"tickColor":"#777777","labelFont":"Liberation Serif","labelFontSize":46,"labelColor":"#000000","labelAlign":"left","labelBaseline":"middle","labelPadding":71,"labelOffset":12,"labelOverlap":false,"labelBound":false,"zindex":1}},
"color":{"field":"k","type":"nominal","legend":null,"scale":{"domain":["st","wL","wR","stL","stR","eL","eR"],"range":["rgba(0,0,0,0.33)","rgba(255,165,0,0.3)","rgba(0,128,0,0.3)","#a8946f","#789178","#ffa500","#008000"]}}}},
{"data":{"name":"trace"},"transform":[{"filter":"datum.p=='H'&&datum.l=='LF'"}],"mark":{"type":"line","interpolate":"monotone","color":"#2a2a2a","strokeWidth":1.3},"encoding":{"x":{"field":"t","type":"quantitative","title":null,"scale":{"domain":[0,8.1],"nice":false,"zero":false}},"y":{"field":"v","type":"quantitative","axis":null,"scale":{"domain":[-5,1],"nice":false,"zero":false}}}},
{"data":{"name":"trace"},"transform":[{"filter":"datum.p=='H'&&datum.l=='LM'"}],"mark":{"type":"line","interpolate":"monotone","color":"#2a2a2a","strokeWidth":1.3},"encoding":{"x":{"field":"t","type":"quantitative","title":null,"scale":{"domain":[0,8.1],"nice":false,"zero":false}},"y":{"field":"v","type":"quantitative","axis":null,"scale":{"domain":[-4,2],"nice":false,"zero":false}}}},
{"data":{"name":"trace"},"transform":[{"filter":"datum.p=='H'&&datum.l=='LH'"}],"mark":{"type":"line","interpolate":"monotone","color":"#2a2a2a","strokeWidth":1.3},"encoding":{"x":{"field":"t","type":"quantitative","title":null,"scale":{"domain":[0,8.1],"nice":false,"zero":false}},"y":{"field":"v","type":"quantitative","axis":null,"scale":{"domain":[-3,3],"nice":false,"zero":false}}}},
{"data":{"name":"trace"},"transform":[{"filter":"datum.p=='H'&&datum.l=='RF'"}],"mark":{"type":"line","interpolate":"monotone","color":"#2a2a2a","strokeWidth":1.3},"encoding":{"x":{"field":"t","type":"quantitative","title":null,"scale":{"domain":[0,8.1],"nice":false,"zero":false}},"y":{"field":"v","type":"quantitative","axis":null,"scale":{"domain":[-2,4],"nice":false,"zero":false}}}},
{"data":{"name":"trace"},"transform":[{"filter":"datum.p=='H'&&datum.l=='RM'"}],"mark":{"type":"line","interpolate":"monotone","color":"#2a2a2a","strokeWidth":1.3},"encoding":{"x":{"field":"t","type":"quantitative","title":null,"scale":{"domain":[0,8.1],"nice":false,"zero":false}},"y":{"field":"v","type":"quantitative","axis":null,"scale":{"domain":[-1,5],"nice":false,"zero":false}}}},
{"data":{"name":"trace"},"transform":[{"filter":"datum.p=='H'&&datum.l=='RH'"}],"mark":{"type":"line","interpolate":"monotone","color":"#2a2a2a","strokeWidth":1.3},"encoding":{"x":{"field":"t","type":"quantitative","title":null,"scale":{"domain":[0,8.1],"nice":false,"zero":false}},"y":{"field":"v","type":"quantitative","axis":null,"scale":{"domain":[0,6],"nice":false,"zero":false}}}},
{"data":{"name":"events"},"transform":[{"filter":"datum.p=='H'"}],"mark":{"type":"tick","thickness":3,"size":68,"opacity":1},
"encoding":{"x":{"field":"t","type":"quantitative","title":null,"scale":{"domain":[0,8.1],"nice":false,"zero":false}},"y":{"field":"l","type":"nominal","title":null,"axis":null,"scale":{"domain":["LF","LM","LH","RF","RM","RH"],"paddingInner":0,"paddingOuter":0}},
"color":{"field":"k","type":"nominal","legend":null,"scale":{"domain":["st","wL","wR","stL","stR","eL","eR"],"range":["rgba(0,0,0,0.33)","rgba(255,165,0,0.3)","rgba(0,128,0,0.3)","#a8946f","#789178","#ffa500","#008000"]}}}}
],
"resolve":{"scale":{"y":"independent"}}}
],"spacing":12,"resolve":{"scale":{"color":"independent","x":"independent","y":"independent"}}},
{"vconcat":[
{"width":10,"height":1,"data":{"values":[]},"mark":{"type":"point","opacity":0}},
{"hconcat":[
{"vconcat":[
{"title":"St, LF-LM","width":160,"height":160,"layer":[
{"data":{"name":"rings"},"mark":{"type":"arc","filled":false,"stroke":"#d3d3d3","strokeWidth":1},"encoding":{"theta":{"datum":0,"scale":{"domain":[0,360],"range":[1.5708,-4.7124]}},"theta2":{"datum":360},"radius":{"field":"r","type":"quantitative","scale":{"type":"linear","domain":[0,2],"range":[0,80],"clamp":true}}}},
{"data":{"name":"spokes"},"mark":{"type":"arc","filled":false,"stroke":"#d3d3d3","strokeWidth":1},"encoding":{"theta":{"field":"t","type":"quantitative","stack":null,"scale":{"domain":[0,360],"range":[1.5708,-4.7124]}},"theta2":{"field":"u"},"radius":{"field":"r","type":"quantitative","scale":{"type":"linear","domain":[0,2],"range":[0,80],"clamp":true}}}},
{"data":{"name":"rings"},"mark":{"type":"text","style":"rlab"},"encoding":{"theta":{"datum":22.5,"scale":{"domain":[0,360],"range":[1.5708,-4.7124]}},"radius":{"field":"r","type":"quantitative","scale":{"type":"linear","domain":[0,2],"range":[0,80],"clamp":true}},"text":{"field":"r","type":"quantitative","format":".1f"}}},
{"data":{"name":"rose"},"transform":[{"filter":"datum.p=='LF-LM'"}],"mark":{"type":"arc","opacity":0.55},"encoding":{"theta":{"field":"a","type":"quantitative","stack":null,"scale":{"domain":[0,360],"range":[1.5708,-4.7124]}},"theta2":{"field":"a2"},"radius":{"field":"r","type":"quantitative","scale":{"type":"linear","domain":[0,2],"range":[0,80],"clamp":true}},"color":{"field":"g","type":"nominal","legend":null,"scale":{"domain":["H","L"],"range":["#ff0000","#0000ff"]}}}},
{"data":{"name":"vec"},"transform":[{"filter":"datum.p=='LF-LM'"}],"mark":{"type":"point","filled":false,"strokeWidth":1.6,"opacity":1},"encoding":{"shape":{"field":"s","type":"nominal","legend":null,"scale":{"domain":["n","m","w"],"range":["M0,0C0,-0.088 0.448,-0.16 1,-0.16C1.552,-0.16 2,-0.088 2,0C2,0.088 1.552,0.16 1,0.16C0.448,0.16 0,0.088 0,0Z","M0,0C0,-0.144 0.448,-0.26 1,-0.26C1.552,-0.26 2,-0.144 2,0C2,0.144 1.552,0.26 1,0.26C0.448,0.26 0,0.144 0,0Z","M0,0C0,-0.21 0.448,-0.38 1,-0.38C1.552,-0.38 2,-0.21 2,0C2,0.21 1.552,0.38 1,0.38C0.448,0.38 0,0.21 0,0Z"]}},"size":{"field":"len","type":"quantitative","legend":null,"scale":{"type":"pow","exponent":2,"domain":[0,2],"range":[0,6400]}},"angle":{"field":"ang","type":"quantitative","scale":{"domain":[0,360],"range":[360,0]}},"color":{"field":"g","type":"nominal","legend":null,"scale":{"domain":["H","L"],"range":["#ff0000","#0000ff"]}}}},
{"data":{"name":"rim"},"mark":{"type":"arc","filled":false,"stroke":"#3c3c3c","strokeWidth":1},"encoding":{"theta":{"datum":0,"scale":{"domain":[0,360],"range":[1.5708,-4.7124]}},"theta2":{"datum":360},"radius":{"field":"r","type":"quantitative","scale":{"type":"linear","domain":[0,2],"range":[0,80],"clamp":true}}}},
{"data":{"name":"counts"},"transform":[{"filter":"datum.p=='LF-LM'&&datum.g=='H'"}],"mark":{"type":"text","style":"nlab"},"encoding":{"theta":{"datum":293,"scale":{"domain":[0,360],"range":[1.5708,-4.7124]}},"radius":{"datum":1.54,"scale":{"type":"linear","domain":[0,2],"range":[0,80],"clamp":true}},"text":{"field":"lab"},"color":{"field":"g","type":"nominal","legend":null,"scale":{"domain":["H","L"],"range":["#ff0000","#0000ff"]}}}},
{"data":{"name":"counts"},"transform":[{"filter":"datum.p=='LF-LM'&&datum.g=='L'"}],"mark":{"type":"text","style":"nlab","dy":15},"encoding":{"theta":{"datum":293,"scale":{"domain":[0,360],"range":[1.5708,-4.7124]}},"radius":{"datum":1.54,"scale":{"type":"linear","domain":[0,2],"range":[0,80],"clamp":true}},"text":{"field":"lab"},"color":{"field":"g","type":"nominal","legend":null,"scale":{"domain":["H","L"],"range":["#ff0000","#0000ff"]}}}}
]},
{"title":"St, LF-LH","width":160,"height":160,"layer":[
{"data":{"name":"rings"},"mark":{"type":"arc","filled":false,"stroke":"#d3d3d3","strokeWidth":1},"encoding":{"theta":{"datum":0,"scale":{"domain":[0,360],"range":[1.5708,-4.7124]}},"theta2":{"datum":360},"radius":{"field":"r","type":"quantitative","scale":{"type":"linear","domain":[0,2.45],"range":[0,80],"clamp":true}}}},
{"data":{"name":"spokes"},"mark":{"type":"arc","filled":false,"stroke":"#d3d3d3","strokeWidth":1},"encoding":{"theta":{"field":"t","type":"quantitative","stack":null,"scale":{"domain":[0,360],"range":[1.5708,-4.7124]}},"theta2":{"field":"u"},"radius":{"field":"r","type":"quantitative","scale":{"type":"linear","domain":[0,2.45],"range":[0,80],"clamp":true}}}},
{"data":{"name":"rings"},"mark":{"type":"text","style":"rlab"},"encoding":{"theta":{"datum":22.5,"scale":{"domain":[0,360],"range":[1.5708,-4.7124]}},"radius":{"field":"r","type":"quantitative","scale":{"type":"linear","domain":[0,2.45],"range":[0,80],"clamp":true}},"text":{"field":"r","type":"quantitative","format":".1f"}}},
{"data":{"name":"rose"},"transform":[{"filter":"datum.p=='LF-LH'"}],"mark":{"type":"arc","opacity":0.55},"encoding":{"theta":{"field":"a","type":"quantitative","stack":null,"scale":{"domain":[0,360],"range":[1.5708,-4.7124]}},"theta2":{"field":"a2"},"radius":{"field":"r","type":"quantitative","scale":{"type":"linear","domain":[0,2.45],"range":[0,80],"clamp":true}},"color":{"field":"g","type":"nominal","legend":null,"scale":{"domain":["H","L"],"range":["#ff0000","#0000ff"]}}}},
{"data":{"name":"vec"},"transform":[{"filter":"datum.p=='LF-LH'"}],"mark":{"type":"point","filled":false,"strokeWidth":1.6,"opacity":1},"encoding":{"shape":{"field":"s","type":"nominal","legend":null,"scale":{"domain":["n","m","w"],"range":["M0,0C0,-0.088 0.448,-0.16 1,-0.16C1.552,-0.16 2,-0.088 2,0C2,0.088 1.552,0.16 1,0.16C0.448,0.16 0,0.088 0,0Z","M0,0C0,-0.144 0.448,-0.26 1,-0.26C1.552,-0.26 2,-0.144 2,0C2,0.144 1.552,0.26 1,0.26C0.448,0.26 0,0.144 0,0Z","M0,0C0,-0.21 0.448,-0.38 1,-0.38C1.552,-0.38 2,-0.21 2,0C2,0.21 1.552,0.38 1,0.38C0.448,0.38 0,0.21 0,0Z"]}},"size":{"field":"len","type":"quantitative","legend":null,"scale":{"type":"pow","exponent":2,"domain":[0,2.45],"range":[0,6400]}},"angle":{"field":"ang","type":"quantitative","scale":{"domain":[0,360],"range":[360,0]}},"color":{"field":"g","type":"nominal","legend":null,"scale":{"domain":["H","L"],"range":["#ff0000","#0000ff"]}}}},
{"data":{"name":"rim"},"mark":{"type":"arc","filled":false,"stroke":"#3c3c3c","strokeWidth":1},"encoding":{"theta":{"datum":0,"scale":{"domain":[0,360],"range":[1.5708,-4.7124]}},"theta2":{"datum":360},"radius":{"field":"r","type":"quantitative","scale":{"type":"linear","domain":[0,2.45],"range":[0,80],"clamp":true}}}},
{"data":{"name":"counts"},"transform":[{"filter":"datum.p=='LF-LH'&&datum.g=='H'"}],"mark":{"type":"text","style":"nlab"},"encoding":{"theta":{"datum":293,"scale":{"domain":[0,360],"range":[1.5708,-4.7124]}},"radius":{"datum":1.54,"scale":{"type":"linear","domain":[0,2.45],"range":[0,80],"clamp":true}},"text":{"field":"lab"},"color":{"field":"g","type":"nominal","legend":null,"scale":{"domain":["H","L"],"range":["#ff0000","#0000ff"]}}}},
{"data":{"name":"counts"},"transform":[{"filter":"datum.p=='LF-LH'&&datum.g=='L'"}],"mark":{"type":"text","style":"nlab","dy":15},"encoding":{"theta":{"datum":293,"scale":{"domain":[0,360],"range":[1.5708,-4.7124]}},"radius":{"datum":1.54,"scale":{"type":"linear","domain":[0,2.45],"range":[0,80],"clamp":true}},"text":{"field":"lab"},"color":{"field":"g","type":"nominal","legend":null,"scale":{"domain":["H","L"],"range":["#ff0000","#0000ff"]}}}}
]}
],"spacing":0,"resolve":{"scale":{"color":"independent","theta":"independent","radius":"independent","size":"independent","shape":"independent","angle":"independent"}}},
{"vconcat":[
{"title":"St, LF-RF","width":160,"height":160,"layer":[
{"data":{"name":"rings"},"mark":{"type":"arc","filled":false,"stroke":"#d3d3d3","strokeWidth":1},"encoding":{"theta":{"datum":0,"scale":{"domain":[0,360],"range":[1.5708,-4.7124]}},"theta2":{"datum":360},"radius":{"field":"r","type":"quantitative","scale":{"type":"linear","domain":[0,2.4],"range":[0,80],"clamp":true}}}},
{"data":{"name":"spokes"},"mark":{"type":"arc","filled":false,"stroke":"#d3d3d3","strokeWidth":1},"encoding":{"theta":{"field":"t","type":"quantitative","stack":null,"scale":{"domain":[0,360],"range":[1.5708,-4.7124]}},"theta2":{"field":"u"},"radius":{"field":"r","type":"quantitative","scale":{"type":"linear","domain":[0,2.4],"range":[0,80],"clamp":true}}}},
{"data":{"name":"rings"},"mark":{"type":"text","style":"rlab"},"encoding":{"theta":{"datum":22.5,"scale":{"domain":[0,360],"range":[1.5708,-4.7124]}},"radius":{"field":"r","type":"quantitative","scale":{"type":"linear","domain":[0,2.4],"range":[0,80],"clamp":true}},"text":{"field":"r","type":"quantitative","format":".1f"}}},
{"data":{"name":"rose"},"transform":[{"filter":"datum.p=='LF-RF'"}],"mark":{"type":"arc","opacity":0.55},"encoding":{"theta":{"field":"a","type":"quantitative","stack":null,"scale":{"domain":[0,360],"range":[1.5708,-4.7124]}},"theta2":{"field":"a2"},"radius":{"field":"r","type":"quantitative","scale":{"type":"linear","domain":[0,2.4],"range":[0,80],"clamp":true}},"color":{"field":"g","type":"nominal","legend":null,"scale":{"domain":["H","L"],"range":["#ff0000","#0000ff"]}}}},
{"data":{"name":"vec"},"transform":[{"filter":"datum.p=='LF-RF'"}],"mark":{"type":"point","filled":false,"strokeWidth":1.6,"opacity":1},"encoding":{"shape":{"field":"s","type":"nominal","legend":null,"scale":{"domain":["n","m","w"],"range":["M0,0C0,-0.088 0.448,-0.16 1,-0.16C1.552,-0.16 2,-0.088 2,0C2,0.088 1.552,0.16 1,0.16C0.448,0.16 0,0.088 0,0Z","M0,0C0,-0.144 0.448,-0.26 1,-0.26C1.552,-0.26 2,-0.144 2,0C2,0.144 1.552,0.26 1,0.26C0.448,0.26 0,0.144 0,0Z","M0,0C0,-0.21 0.448,-0.38 1,-0.38C1.552,-0.38 2,-0.21 2,0C2,0.21 1.552,0.38 1,0.38C0.448,0.38 0,0.21 0,0Z"]}},"size":{"field":"len","type":"quantitative","legend":null,"scale":{"type":"pow","exponent":2,"domain":[0,2.4],"range":[0,6400]}},"angle":{"field":"ang","type":"quantitative","scale":{"domain":[0,360],"range":[360,0]}},"color":{"field":"g","type":"nominal","legend":null,"scale":{"domain":["H","L"],"range":["#ff0000","#0000ff"]}}}},
{"data":{"name":"rim"},"mark":{"type":"arc","filled":false,"stroke":"#3c3c3c","strokeWidth":1},"encoding":{"theta":{"datum":0,"scale":{"domain":[0,360],"range":[1.5708,-4.7124]}},"theta2":{"datum":360},"radius":{"field":"r","type":"quantitative","scale":{"type":"linear","domain":[0,2.4],"range":[0,80],"clamp":true}}}},
{"data":{"name":"counts"},"transform":[{"filter":"datum.p=='LF-RF'&&datum.g=='H'"}],"mark":{"type":"text","style":"nlab"},"encoding":{"theta":{"datum":293,"scale":{"domain":[0,360],"range":[1.5708,-4.7124]}},"radius":{"datum":1.54,"scale":{"type":"linear","domain":[0,2.4],"range":[0,80],"clamp":true}},"text":{"field":"lab"},"color":{"field":"g","type":"nominal","legend":null,"scale":{"domain":["H","L"],"range":["#ff0000","#0000ff"]}}}},
{"data":{"name":"counts"},"transform":[{"filter":"datum.p=='LF-RF'&&datum.g=='L'"}],"mark":{"type":"text","style":"nlab","dy":15},"encoding":{"theta":{"datum":293,"scale":{"domain":[0,360],"range":[1.5708,-4.7124]}},"radius":{"datum":1.54,"scale":{"type":"linear","domain":[0,2.4],"range":[0,80],"clamp":true}},"text":{"field":"lab"},"color":{"field":"g","type":"nominal","legend":null,"scale":{"domain":["H","L"],"range":["#ff0000","#0000ff"]}}}}
]},
{"title":"St, LM-RM","width":160,"height":160,"layer":[
{"data":{"name":"rings"},"mark":{"type":"arc","filled":false,"stroke":"#d3d3d3","strokeWidth":1},"encoding":{"theta":{"datum":0,"scale":{"domain":[0,360],"range":[1.5708,-4.7124]}},"theta2":{"datum":360},"radius":{"field":"r","type":"quantitative","scale":{"type":"linear","domain":[0,2.35],"range":[0,80],"clamp":true}}}},
{"data":{"name":"spokes"},"mark":{"type":"arc","filled":false,"stroke":"#d3d3d3","strokeWidth":1},"encoding":{"theta":{"field":"t","type":"quantitative","stack":null,"scale":{"domain":[0,360],"range":[1.5708,-4.7124]}},"theta2":{"field":"u"},"radius":{"field":"r","type":"quantitative","scale":{"type":"linear","domain":[0,2.35],"range":[0,80],"clamp":true}}}},
{"data":{"name":"rings"},"mark":{"type":"text","style":"rlab"},"encoding":{"theta":{"datum":22.5,"scale":{"domain":[0,360],"range":[1.5708,-4.7124]}},"radius":{"field":"r","type":"quantitative","scale":{"type":"linear","domain":[0,2.35],"range":[0,80],"clamp":true}},"text":{"field":"r","type":"quantitative","format":".1f"}}},
{"data":{"name":"rose"},"transform":[{"filter":"datum.p=='LM-RM'"}],"mark":{"type":"arc","opacity":0.55},"encoding":{"theta":{"field":"a","type":"quantitative","stack":null,"scale":{"domain":[0,360],"range":[1.5708,-4.7124]}},"theta2":{"field":"a2"},"radius":{"field":"r","type":"quantitative","scale":{"type":"linear","domain":[0,2.35],"range":[0,80],"clamp":true}},"color":{"field":"g","type":"nominal","legend":null,"scale":{"domain":["H","L"],"range":["#ff0000","#0000ff"]}}}},
{"data":{"name":"vec"},"transform":[{"filter":"datum.p=='LM-RM'"}],"mark":{"type":"point","filled":false,"strokeWidth":1.6,"opacity":1},"encoding":{"shape":{"field":"s","type":"nominal","legend":null,"scale":{"domain":["n","m","w"],"range":["M0,0C0,-0.088 0.448,-0.16 1,-0.16C1.552,-0.16 2,-0.088 2,0C2,0.088 1.552,0.16 1,0.16C0.448,0.16 0,0.088 0,0Z","M0,0C0,-0.144 0.448,-0.26 1,-0.26C1.552,-0.26 2,-0.144 2,0C2,0.144 1.552,0.26 1,0.26C0.448,0.26 0,0.144 0,0Z","M0,0C0,-0.21 0.448,-0.38 1,-0.38C1.552,-0.38 2,-0.21 2,0C2,0.21 1.552,0.38 1,0.38C0.448,0.38 0,0.21 0,0Z"]}},"size":{"field":"len","type":"quantitative","legend":null,"scale":{"type":"pow","exponent":2,"domain":[0,2.35],"range":[0,6400]}},"angle":{"field":"ang","type":"quantitative","scale":{"domain":[0,360],"range":[360,0]}},"color":{"field":"g","type":"nominal","legend":null,"scale":{"domain":["H","L"],"range":["#ff0000","#0000ff"]}}}},
{"data":{"name":"rim"},"mark":{"type":"arc","filled":false,"stroke":"#3c3c3c","strokeWidth":1},"encoding":{"theta":{"datum":0,"scale":{"domain":[0,360],"range":[1.5708,-4.7124]}},"theta2":{"datum":360},"radius":{"field":"r","type":"quantitative","scale":{"type":"linear","domain":[0,2.35],"range":[0,80],"clamp":true}}}},
{"data":{"name":"counts"},"transform":[{"filter":"datum.p=='LM-RM'&&datum.g=='H'"}],"mark":{"type":"text","style":"nlab"},"encoding":{"theta":{"datum":293,"scale":{"domain":[0,360],"range":[1.5708,-4.7124]}},"radius":{"datum":1.54,"scale":{"type":"linear","domain":[0,2.35],"range":[0,80],"clamp":true}},"text":{"field":"lab"},"color":{"field":"g","type":"nominal","legend":null,"scale":{"domain":["H","L"],"range":["#ff0000","#0000ff"]}}}},
{"data":{"name":"counts"},"transform":[{"filter":"datum.p=='LM-RM'&&datum.g=='L'"}],"mark":{"type":"text","style":"nlab","dy":15},"encoding":{"theta":{"datum":293,"scale":{"domain":[0,360],"range":[1.5708,-4.7124]}},"radius":{"datum":1.54,"scale":{"type":"linear","domain":[0,2.35],"range":[0,80],"clamp":true}},"text":{"field":"lab"},"color":{"field":"g","type":"nominal","legend":null,"scale":{"domain":["H","L"],"range":["#ff0000","#0000ff"]}}}}
]},
{"title":"St, LH-RH","width":160,"height":160,"layer":[
{"data":{"name":"rings"},"mark":{"type":"arc","filled":false,"stroke":"#d3d3d3","strokeWidth":1},"encoding":{"theta":{"datum":0,"scale":{"domain":[0,360],"range":[1.5708,-4.7124]}},"theta2":{"datum":360},"radius":{"field":"r","type":"quantitative","scale":{"type":"linear","domain":[0,2],"range":[0,80],"clamp":true}}}},
{"data":{"name":"spokes"},"mark":{"type":"arc","filled":false,"stroke":"#d3d3d3","strokeWidth":1},"encoding":{"theta":{"field":"t","type":"quantitative","stack":null,"scale":{"domain":[0,360],"range":[1.5708,-4.7124]}},"theta2":{"field":"u"},"radius":{"field":"r","type":"quantitative","scale":{"type":"linear","domain":[0,2],"range":[0,80],"clamp":true}}}},
{"data":{"name":"rings"},"mark":{"type":"text","style":"rlab"},"encoding":{"theta":{"datum":22.5,"scale":{"domain":[0,360],"range":[1.5708,-4.7124]}},"radius":{"field":"r","type":"quantitative","scale":{"type":"linear","domain":[0,2],"range":[0,80],"clamp":true}},"text":{"field":"r","type":"quantitative","format":".1f"}}},
{"data":{"name":"rose"},"transform":[{"filter":"datum.p=='LH-RH'"}],"mark":{"type":"arc","opacity":0.55},"encoding":{"theta":{"field":"a","type":"quantitative","stack":null,"scale":{"domain":[0,360],"range":[1.5708,-4.7124]}},"theta2":{"field":"a2"},"radius":{"field":"r","type":"quantitative","scale":{"type":"linear","domain":[0,2],"range":[0,80],"clamp":true}},"color":{"field":"g","type":"nominal","legend":null,"scale":{"domain":["H","L"],"range":["#ff0000","#0000ff"]}}}},
{"data":{"name":"vec"},"transform":[{"filter":"datum.p=='LH-RH'"}],"mark":{"type":"point","filled":false,"strokeWidth":1.6,"opacity":1},"encoding":{"shape":{"field":"s","type":"nominal","legend":null,"scale":{"domain":["n","m","w"],"range":["M0,0C0,-0.088 0.448,-0.16 1,-0.16C1.552,-0.16 2,-0.088 2,0C2,0.088 1.552,0.16 1,0.16C0.448,0.16 0,0.088 0,0Z","M0,0C0,-0.144 0.448,-0.26 1,-0.26C1.552,-0.26 2,-0.144 2,0C2,0.144 1.552,0.26 1,0.26C0.448,0.26 0,0.144 0,0Z","M0,0C0,-0.21 0.448,-0.38 1,-0.38C1.552,-0.38 2,-0.21 2,0C2,0.21 1.552,0.38 1,0.38C0.448,0.38 0,0.21 0,0Z"]}},"size":{"field":"len","type":"quantitative","legend":null,"scale":{"type":"pow","exponent":2,"domain":[0,2],"range":[0,6400]}},"angle":{"field":"ang","type":"quantitative","scale":{"domain":[0,360],"range":[360,0]}},"color":{"field":"g","type":"nominal","legend":null,"scale":{"domain":["H","L"],"range":["#ff0000","#0000ff"]}}}},
{"data":{"name":"rim"},"mark":{"type":"arc","filled":false,"stroke":"#3c3c3c","strokeWidth":1},"encoding":{"theta":{"datum":0,"scale":{"domain":[0,360],"range":[1.5708,-4.7124]}},"theta2":{"datum":360},"radius":{"field":"r","type":"quantitative","scale":{"type":"linear","domain":[0,2],"range":[0,80],"clamp":true}}}},
{"data":{"name":"counts"},"transform":[{"filter":"datum.p=='LH-RH'&&datum.g=='H'"}],"mark":{"type":"text","style":"nlab"},"encoding":{"theta":{"datum":293,"scale":{"domain":[0,360],"range":[1.5708,-4.7124]}},"radius":{"datum":1.54,"scale":{"type":"linear","domain":[0,2],"range":[0,80],"clamp":true}},"text":{"field":"lab"},"color":{"field":"g","type":"nominal","legend":null,"scale":{"domain":["H","L"],"range":["#ff0000","#0000ff"]}}}},
{"data":{"name":"counts"},"transform":[{"filter":"datum.p=='LH-RH'&&datum.g=='L'"}],"mark":{"type":"text","style":"nlab","dy":15},"encoding":{"theta":{"datum":293,"scale":{"domain":[0,360],"range":[1.5708,-4.7124]}},"radius":{"datum":1.54,"scale":{"type":"linear","domain":[0,2],"range":[0,80],"clamp":true}},"text":{"field":"lab"},"color":{"field":"g","type":"nominal","legend":null,"scale":{"domain":["H","L"],"range":["#ff0000","#0000ff"]}}}}
]}
],"spacing":0,"resolve":{"scale":{"color":"independent","theta":"independent","radius":"independent","size":"independent","shape":"independent","angle":"independent"}}},
{"vconcat":[
{"title":"St, RF-RM","width":164,"height":164,"layer":[
{"data":{"name":"rings"},"mark":{"type":"arc","filled":false,"stroke":"#d3d3d3","strokeWidth":1},"encoding":{"theta":{"datum":0,"scale":{"domain":[0,360],"range":[1.5708,-4.7124]}},"theta2":{"datum":360},"radius":{"field":"r","type":"quantitative","scale":{"type":"linear","domain":[0,2.45],"range":[0,82],"clamp":true}}}},
{"data":{"name":"spokes"},"mark":{"type":"arc","filled":false,"stroke":"#d3d3d3","strokeWidth":1},"encoding":{"theta":{"field":"t","type":"quantitative","stack":null,"scale":{"domain":[0,360],"range":[1.5708,-4.7124]}},"theta2":{"field":"u"},"radius":{"field":"r","type":"quantitative","scale":{"type":"linear","domain":[0,2.45],"range":[0,82],"clamp":true}}}},
{"data":{"name":"rings"},"mark":{"type":"text","style":"rlab"},"encoding":{"theta":{"datum":22.5,"scale":{"domain":[0,360],"range":[1.5708,-4.7124]}},"radius":{"field":"r","type":"quantitative","scale":{"type":"linear","domain":[0,2.45],"range":[0,82],"clamp":true}},"text":{"field":"r","type":"quantitative","format":".1f"}}},
{"data":{"name":"rose"},"transform":[{"filter":"datum.p=='RF-RM'"}],"mark":{"type":"arc","opacity":0.55},"encoding":{"theta":{"field":"a","type":"quantitative","stack":null,"scale":{"domain":[0,360],"range":[1.5708,-4.7124]}},"theta2":{"field":"a2"},"radius":{"field":"r","type":"quantitative","scale":{"type":"linear","domain":[0,2.45],"range":[0,82],"clamp":true}},"color":{"field":"g","type":"nominal","legend":null,"scale":{"domain":["H","L"],"range":["#ff0000","#0000ff"]}}}},
{"data":{"name":"vec"},"transform":[{"filter":"datum.p=='RF-RM'"}],"mark":{"type":"point","filled":false,"strokeWidth":1.6,"opacity":1},"encoding":{"shape":{"field":"s","type":"nominal","legend":null,"scale":{"domain":["n","m","w"],"range":["M0,0C0,-0.088 0.448,-0.16 1,-0.16C1.552,-0.16 2,-0.088 2,0C2,0.088 1.552,0.16 1,0.16C0.448,0.16 0,0.088 0,0Z","M0,0C0,-0.144 0.448,-0.26 1,-0.26C1.552,-0.26 2,-0.144 2,0C2,0.144 1.552,0.26 1,0.26C0.448,0.26 0,0.144 0,0Z","M0,0C0,-0.21 0.448,-0.38 1,-0.38C1.552,-0.38 2,-0.21 2,0C2,0.21 1.552,0.38 1,0.38C0.448,0.38 0,0.21 0,0Z"]}},"size":{"field":"len","type":"quantitative","legend":null,"scale":{"type":"pow","exponent":2,"domain":[0,2.45],"range":[0,6724]}},"angle":{"field":"ang","type":"quantitative","scale":{"domain":[0,360],"range":[360,0]}},"color":{"field":"g","type":"nominal","legend":null,"scale":{"domain":["H","L"],"range":["#ff0000","#0000ff"]}}}},
{"data":{"name":"rim"},"mark":{"type":"arc","filled":false,"stroke":"#3c3c3c","strokeWidth":1},"encoding":{"theta":{"datum":0,"scale":{"domain":[0,360],"range":[1.5708,-4.7124]}},"theta2":{"datum":360},"radius":{"field":"r","type":"quantitative","scale":{"type":"linear","domain":[0,2.45],"range":[0,82],"clamp":true}}}},
{"data":{"name":"counts"},"transform":[{"filter":"datum.p=='RF-RM'&&datum.g=='H'"}],"mark":{"type":"text","style":"nlab"},"encoding":{"theta":{"datum":293,"scale":{"domain":[0,360],"range":[1.5708,-4.7124]}},"radius":{"datum":1.54,"scale":{"type":"linear","domain":[0,2.45],"range":[0,82],"clamp":true}},"text":{"field":"lab"},"color":{"field":"g","type":"nominal","legend":null,"scale":{"domain":["H","L"],"range":["#ff0000","#0000ff"]}}}},
{"data":{"name":"counts"},"transform":[{"filter":"datum.p=='RF-RM'&&datum.g=='L'"}],"mark":{"type":"text","style":"nlab","dy":15},"encoding":{"theta":{"datum":293,"scale":{"domain":[0,360],"range":[1.5708,-4.7124]}},"radius":{"datum":1.54,"scale":{"type":"linear","domain":[0,2.45],"range":[0,82],"clamp":true}},"text":{"field":"lab"},"color":{"field":"g","type":"nominal","legend":null,"scale":{"domain":["H","L"],"range":["#ff0000","#0000ff"]}}}}
]},
{"title":"St, RF-RH","width":164,"height":164,"layer":[
{"data":{"name":"rings"},"mark":{"type":"arc","filled":false,"stroke":"#d3d3d3","strokeWidth":1},"encoding":{"theta":{"datum":0,"scale":{"domain":[0,360],"range":[1.5708,-4.7124]}},"theta2":{"datum":360},"radius":{"field":"r","type":"quantitative","scale":{"type":"linear","domain":[0,2],"range":[0,82],"clamp":true}}}},
{"data":{"name":"spokes"},"mark":{"type":"arc","filled":false,"stroke":"#d3d3d3","strokeWidth":1},"encoding":{"theta":{"field":"t","type":"quantitative","stack":null,"scale":{"domain":[0,360],"range":[1.5708,-4.7124]}},"theta2":{"field":"u"},"radius":{"field":"r","type":"quantitative","scale":{"type":"linear","domain":[0,2],"range":[0,82],"clamp":true}}}},
{"data":{"name":"rings"},"mark":{"type":"text","style":"rlab"},"encoding":{"theta":{"datum":22.5,"scale":{"domain":[0,360],"range":[1.5708,-4.7124]}},"radius":{"field":"r","type":"quantitative","scale":{"type":"linear","domain":[0,2],"range":[0,82],"clamp":true}},"text":{"field":"r","type":"quantitative","format":".1f"}}},
{"data":{"name":"rose"},"transform":[{"filter":"datum.p=='RF-RH'"}],"mark":{"type":"arc","opacity":0.55},"encoding":{"theta":{"field":"a","type":"quantitative","stack":null,"scale":{"domain":[0,360],"range":[1.5708,-4.7124]}},"theta2":{"field":"a2"},"radius":{"field":"r","type":"quantitative","scale":{"type":"linear","domain":[0,2],"range":[0,82],"clamp":true}},"color":{"field":"g","type":"nominal","legend":null,"scale":{"domain":["H","L"],"range":["#ff0000","#0000ff"]}}}},
{"data":{"name":"vec"},"transform":[{"filter":"datum.p=='RF-RH'"}],"mark":{"type":"point","filled":false,"strokeWidth":1.6,"opacity":1},"encoding":{"shape":{"field":"s","type":"nominal","legend":null,"scale":{"domain":["n","m","w"],"range":["M0,0C0,-0.088 0.448,-0.16 1,-0.16C1.552,-0.16 2,-0.088 2,0C2,0.088 1.552,0.16 1,0.16C0.448,0.16 0,0.088 0,0Z","M0,0C0,-0.144 0.448,-0.26 1,-0.26C1.552,-0.26 2,-0.144 2,0C2,0.144 1.552,0.26 1,0.26C0.448,0.26 0,0.144 0,0Z","M0,0C0,-0.21 0.448,-0.38 1,-0.38C1.552,-0.38 2,-0.21 2,0C2,0.21 1.552,0.38 1,0.38C0.448,0.38 0,0.21 0,0Z"]}},"size":{"field":"len","type":"quantitative","legend":null,"scale":{"type":"pow","exponent":2,"domain":[0,2],"range":[0,6724]}},"angle":{"field":"ang","type":"quantitative","scale":{"domain":[0,360],"range":[360,0]}},"color":{"field":"g","type":"nominal","legend":null,"scale":{"domain":["H","L"],"range":["#ff0000","#0000ff"]}}}},
{"data":{"name":"rim"},"mark":{"type":"arc","filled":false,"stroke":"#3c3c3c","strokeWidth":1},"encoding":{"theta":{"datum":0,"scale":{"domain":[0,360],"range":[1.5708,-4.7124]}},"theta2":{"datum":360},"radius":{"field":"r","type":"quantitative","scale":{"type":"linear","domain":[0,2],"range":[0,82],"clamp":true}}}},
{"data":{"name":"counts"},"transform":[{"filter":"datum.p=='RF-RH'&&datum.g=='H'"}],"mark":{"type":"text","style":"nlab"},"encoding":{"theta":{"datum":293,"scale":{"domain":[0,360],"range":[1.5708,-4.7124]}},"radius":{"datum":1.54,"scale":{"type":"linear","domain":[0,2],"range":[0,82],"clamp":true}},"text":{"field":"lab"},"color":{"field":"g","type":"nominal","legend":null,"scale":{"domain":["H","L"],"range":["#ff0000","#0000ff"]}}}},
{"data":{"name":"counts"},"transform":[{"filter":"datum.p=='RF-RH'&&datum.g=='L'"}],"mark":{"type":"text","style":"nlab","dy":15},"encoding":{"theta":{"datum":293,"scale":{"domain":[0,360],"range":[1.5708,-4.7124]}},"radius":{"datum":1.54,"scale":{"type":"linear","domain":[0,2],"range":[0,82],"clamp":true}},"text":{"field":"lab"},"color":{"field":"g","type":"nominal","legend":null,"scale":{"domain":["H","L"],"range":["#ff0000","#0000ff"]}}}}
]}
],"spacing":0,"resolve":{"scale":{"color":"independent","theta":"independent","radius":"independent","size":"independent","shape":"independent","angle":"independent"}}}
],"spacing":18,"center":true,"resolve":{"scale":{"color":"independent","theta":"independent","radius":"independent","size":"independent","shape":"independent","angle":"independent"}}}
],"spacing":0,"resolve":{"scale":{"color":"independent","theta":"independent","radius":"independent","size":"independent","shape":"independent","angle":"independent"}}}
],
"spacing":11,
"center":true,
"resolve":{"scale":{"color":"independent","theta":"independent","radius":"independent","size":"independent","shape":"independent","angle":"independent"}}
}
